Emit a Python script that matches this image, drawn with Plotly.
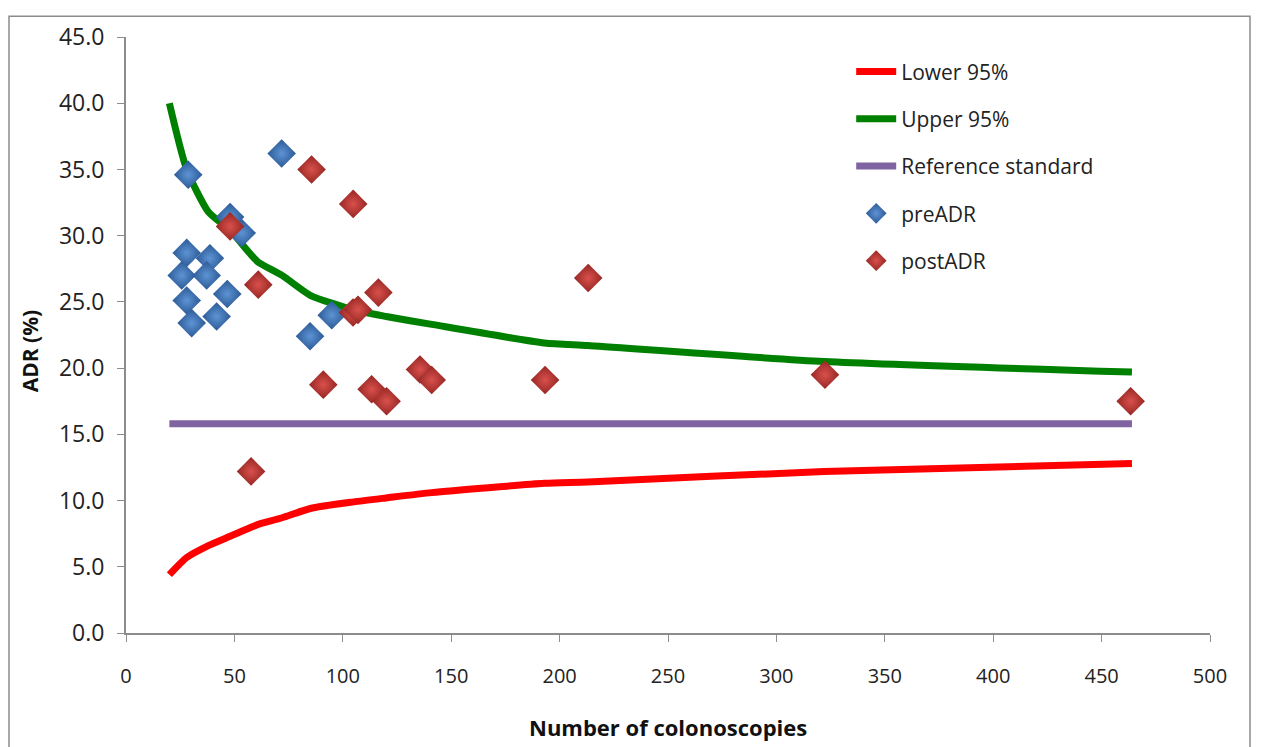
import plotly.graph_objects as go

# ---- data ----
curve_x = [20, 28, 38, 48, 58, 61, 72, 85, 105, 120, 141, 193, 213, 322, 464]
lower_95 = [4.4, 5.7, 6.6, 7.3, 8.0, 8.2, 8.7, 9.4, 9.9, 10.2, 10.6, 11.3, 11.4, 12.2, 12.8]
upper_95 = [40.0, 35.0, 31.8, 30.4, 28.5, 28.0, 27.0, 25.5, 24.4, 23.9, 23.3, 21.9, 21.7, 20.5, 19.7]
ref_x = [20, 464]
ref_y = [15.8, 15.8]

pre_x = [71.8, 28.7, 48.0, 53.4, 28.0, 38.7, 25.7, 37.2, 28.0, 46.7, 30.3, 41.8, 84.9, 94.9]
pre_y = [36.2, 34.6, 31.4, 30.2, 28.7, 28.3, 27.0, 27.0, 25.1, 25.6, 23.4, 23.9, 22.4, 24.0]

post_x = [85.6, 104.8, 48.0, 61.0, 104.7, 107.0, 116.4, 57.7, 91.0, 113.3, 120.2, 135.6, 141.0,
          193.3, 213.2, 322.4, 463.4]
post_y = [35.0, 32.4, 30.7, 26.3, 24.2, 24.4, 25.7, 12.2, 18.75, 18.4, 17.5, 19.9, 19.1,
          19.1, 26.8, 19.5, 17.5]

x_ticks = [0, 50, 100, 150, 200, 250, 300, 350, 400, 450, 500]
y_ticks = [0, 5, 10, 15, 20, 25, 30, 35, 40, 45]

FONT = "Open Sans"
W, H = 1262, 747
L, R, T, B = 118, 60, 22, 122
PW = W - L - R
PH = H - T - B


def px(xf):
    return (xf - L) / PW


def py(yf):
    return (H - B - yf) / PH


fig = go.Figure()
fig.add_trace(go.Scatter(x=curve_x, y=lower_95, mode="lines", name="Lower 95%",
                         line=dict(color="#FF0000", width=7, shape="spline", smoothing=0.6),
                         legendgroup="a"))
fig.add_trace(go.Scatter(x=curve_x, y=upper_95, mode="lines", name="Upper 95%",
                         line=dict(color="#008000", width=7, shape="spline", smoothing=0.6),
                         legendgroup="b"))
fig.add_trace(go.Scatter(x=ref_x, y=ref_y, mode="lines", name="Reference standard",
                         line=dict(color="#8064A2", width=7), legendgroup="c"))
fig.add_trace(go.Scatter(x=pre_x, y=pre_y, mode="markers", name="preADR", legendgroup="d",
                         marker=dict(symbol="diamond", size=22, color="#2B5A96",
                                     gradient=dict(type="radial", color="#5E93D4"),
                                     line=dict(width=0))))
fig.add_trace(go.Scatter(x=post_x, y=post_y, mode="markers", name="postADR", legendgroup="e",
                         marker=dict(symbol="diamond", size=22, color="#962724",
                                     gradient=dict(type="radial", color="#D9504C"),
                                     line=dict(width=0))))

fig.update_layout(
    width=W, height=H,
    margin=dict(l=L, r=R, t=T, b=B),
    paper_bgcolor="white", plot_bgcolor="white",
    font=dict(family=FONT, size=21, color="#222"),
    legend=dict(x=0.669, y=0.976, xanchor="left", yanchor="top",
                font=dict(family=FONT, size=21, color="#222"),
                tracegroupgap=17, bgcolor="rgba(0,0,0,0)", itemwidth=40),
    xaxis=dict(range=[0, 500], tickvals=x_ticks, showgrid=False, zeroline=False,
               showline=True, linecolor="#8C8C8C", linewidth=2,
               ticks="outside", ticklen=7, tickcolor="#8C8C8C",
               ticklabelstandoff=17, tickfont=dict(size=20)),
    yaxis=dict(range=[0, 45], tickvals=y_ticks, tickformat=".1f", showgrid=False,
               zeroline=False, showline=True, linecolor="#8C8C8C", linewidth=2,
               ticks="outside", ticklen=7, tickcolor="#8C8C8C",
               ticklabelstandoff=8, tickfont=dict(size=23)),
    annotations=[
        dict(text="<b>ADR (%)</b>", xref="paper", yref="paper", x=px(22),
             y=py(340), textangle=-90, showarrow=False,
             font=dict(size=21, color="#111"), xanchor="center", yanchor="middle"),
        dict(text="<b>Number of colonoscopies</b>", xref="paper", yref="paper",
             x=0.5, y=py(720), showarrow=False,
             font=dict(size=22, color="#111"), xanchor="center", yanchor="middle"),
    ],
    shapes=[dict(type="rect", xref="paper", yref="paper",
                 x0=px(1), x1=px(1242),
                 y0=py(H + 50), y1=py(1),
                 line=dict(color="#8C8C8C", width=1.5), layer="below")],
)

fig.write_html("out.html")
